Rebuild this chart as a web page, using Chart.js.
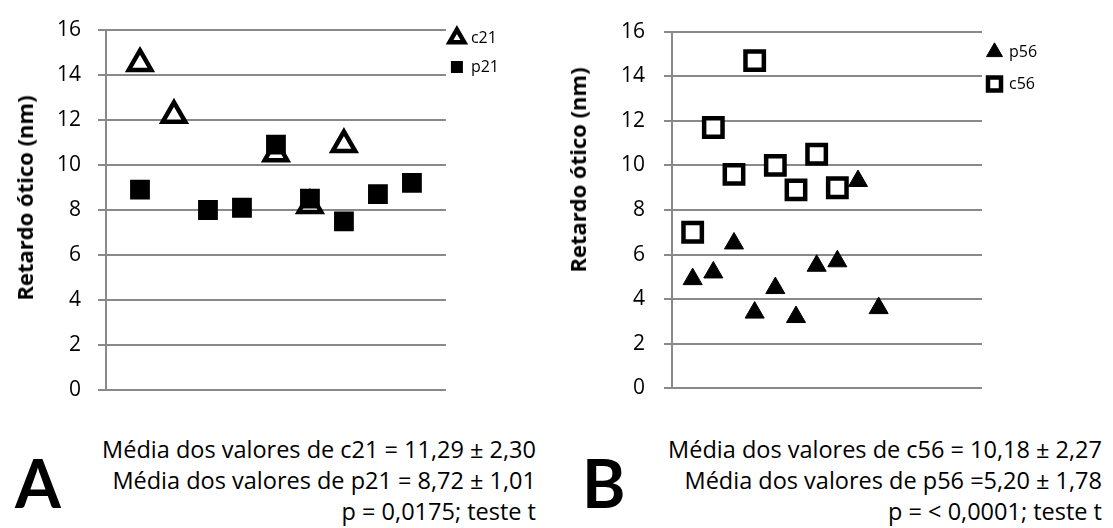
<!DOCTYPE html>
<html>
<head>
<meta charset="utf-8">
<script src="https://cdn.jsdelivr.net/npm/chart.js@4"></script>
<style>
  html, body { margin: 0; padding: 0; background: #fff; }
  #page { position: relative; width: 1113px; height: 528px; overflow: hidden; font-family: "Open Sans", Lato, sans-serif; color: #000; }
  canvas { position: absolute; top: 0; }
  #chartA { left: 0; }
  #chartB { left: 556px; }
  .ytitle { position: absolute; font-weight: bold; font-size: 22px; white-space: nowrap; transform: translate(-50%, -50%) rotate(-90deg); }
  .stats { position: absolute; top: 434px; font-size: 23.5px; line-height: 31px; text-align: right; white-space: nowrap; }
  .panel { position: absolute; top: 450px; font-family: Lato, sans-serif; font-size: 66px; line-height: 1; font-weight: bold; }
</style>
</head>
<body>
<div id="page">
  <canvas id="chartA" width="517" height="420"></canvas>
  <canvas id="chartB" width="501" height="420"></canvas>

  <div class="ytitle" style="left:24px; top:198px;">Retardo ótico (nm)</div>
  <div class="ytitle" style="left:577px; top:170px;">Retardo ótico (nm)</div>

  <div class="panel" style="left:15px;">A</div>
  <div class="stats" style="right:577px;">Média dos valores de c21 = 11,29 ± 2,30<br>Média dos valores de p21 = 8,72 ± 1,01<br>p = 0,0175; teste t</div>

  <div class="panel" style="left:582px;">B</div>
  <div class="stats" style="right:11px;">Média dos valores de c56 = 10,18 ± 2,27<br>Média dos valores de p56 =5,20 ± 1,78<br>p = &lt; 0,0001; teste t</div>
</div>

<script>
// painel A
const c21X = [1, 2, 5, 6, 7];
const c21 = [14.5, 12.2, 10.5, 8.2, 10.9];
const p21X = [1, 3, 4, 5, 6, 7, 8, 9];
const p21 = [8.9, 8.0, 8.1, 10.9, 8.5, 7.5, 8.7, 9.2];

// painel B
const p56X = [1, 2, 3, 4, 5, 6, 7, 8, 9, 10];
const p56 = [4.9, 5.2, 6.5, 3.4, 4.5, 3.2, 5.5, 5.7, 9.3, 3.6];
const c56X = [1, 2, 3, 4, 5, 6, 7, 8];
const c56 = [7.0, 11.7, 9.6, 14.7, 10.0, 8.9, 10.5, 9.0];

const yTicks = [0, 2, 4, 6, 8, 10, 12, 14, 16];

const GRID = '#898989';

function pts(xs, ys) {
    return xs.map((x, i) => ({ x: x, y: ys[i] }));
}

// empurra a legenda um pouco para perto do gráfico
const legendShift = {
    id: 'legendShift',
    afterLayout(chart, args, opts) {
        if (chart.legend) {
            chart.legend.left += opts.dx || 0;
            chart.legend.right += opts.dx || 0;
        }
    }
};

function makeChart(el, cfg) {
    return new Chart(el, {
        type: 'scatter',
        data: { datasets: cfg.datasets },
        plugins: [legendShift],
        options: {
            responsive: false,
            animation: false,
            layout: { padding: { top: cfg.top, bottom: 21, left: 0, right: 0 } },
            plugins: {
                tooltip: { enabled: false },
                legendShift: { dx: cfg.legendDx },
                legend: {
                    position: 'right',
                    align: 'start',
                    maxWidth: 75,
                    labels: {
                        usePointStyle: true,
                        boxWidth: cfg.box,
                        boxHeight: cfg.box,
                        padding: cfg.legendPad,
                        color: '#000',
                        font: { family: 'Open Sans', size: 16 },
                        sort: (a, b) => a.datasetIndex - b.datasetIndex
                    }
                }
            },
            scales: {
                x: {
                    type: 'linear',
                    display: false,
                    min: 0,
                    max: cfg.xMax
                },
                y: {
                    min: 0,
                    max: 16,
                    afterBuildTicks: (s) => { s.ticks = yTicks.map(v => ({ value: v })); },
                    afterFit: (s) => { s.width = cfg.axisW; },
                    ticks: {
                        color: '#000',
                        padding: cfg.tickPad,
                        font: { family: 'Open Sans', size: 21 }
                    },
                    grid: {
                        color: GRID,
                        lineWidth: 2,
                        tickLength: 8
                    },
                    border: { color: GRID, width: 2 }
                }
            }
        }
    });
}

makeChart(document.getElementById('chartA'), {
    xMax: 10,
    top: 17,
    axisW: 106,
    tickPad: 17,
    box: 12,
    legendPad: 13,
    legendDx: -8,
    datasets: [
        {
            label: 'c21',
            data: pts(c21X, c21),
            order: 2,
            pointStyle: 'triangle',
            pointRadius: 13,
            borderWidth: 4.5,
            borderColor: '#000',
            backgroundColor: '#fff'
        },
        {
            label: 'p21',
            data: pts(p21X, p21),
            order: 1,
            pointStyle: 'rect',
            pointRadius: 14,
            borderWidth: 0,
            borderColor: '#000',
            backgroundColor: '#000'
        }
    ]
});

makeChart(document.getElementById('chartB'), {
    xMax: 15,
    top: 28,
    axisW: 116,
    tickPad: 19,
    box: 13,
    legendPad: 16,
    legendDx: -10,
    datasets: [
        {
            label: 'p56',
            data: pts(p56X, p56),
            pointStyle: 'triangle',
            pointRadius: 11,
            borderWidth: 1,
            borderColor: '#000',
            backgroundColor: '#000'
        },
        {
            label: 'c56',
            data: pts(c56X, c56),
            pointStyle: 'rect',
            pointRadius: 13,
            borderWidth: 4.5,
            borderColor: '#000',
            backgroundColor: '#fff'
        }
    ]
});
</script>
</body>
</html>
